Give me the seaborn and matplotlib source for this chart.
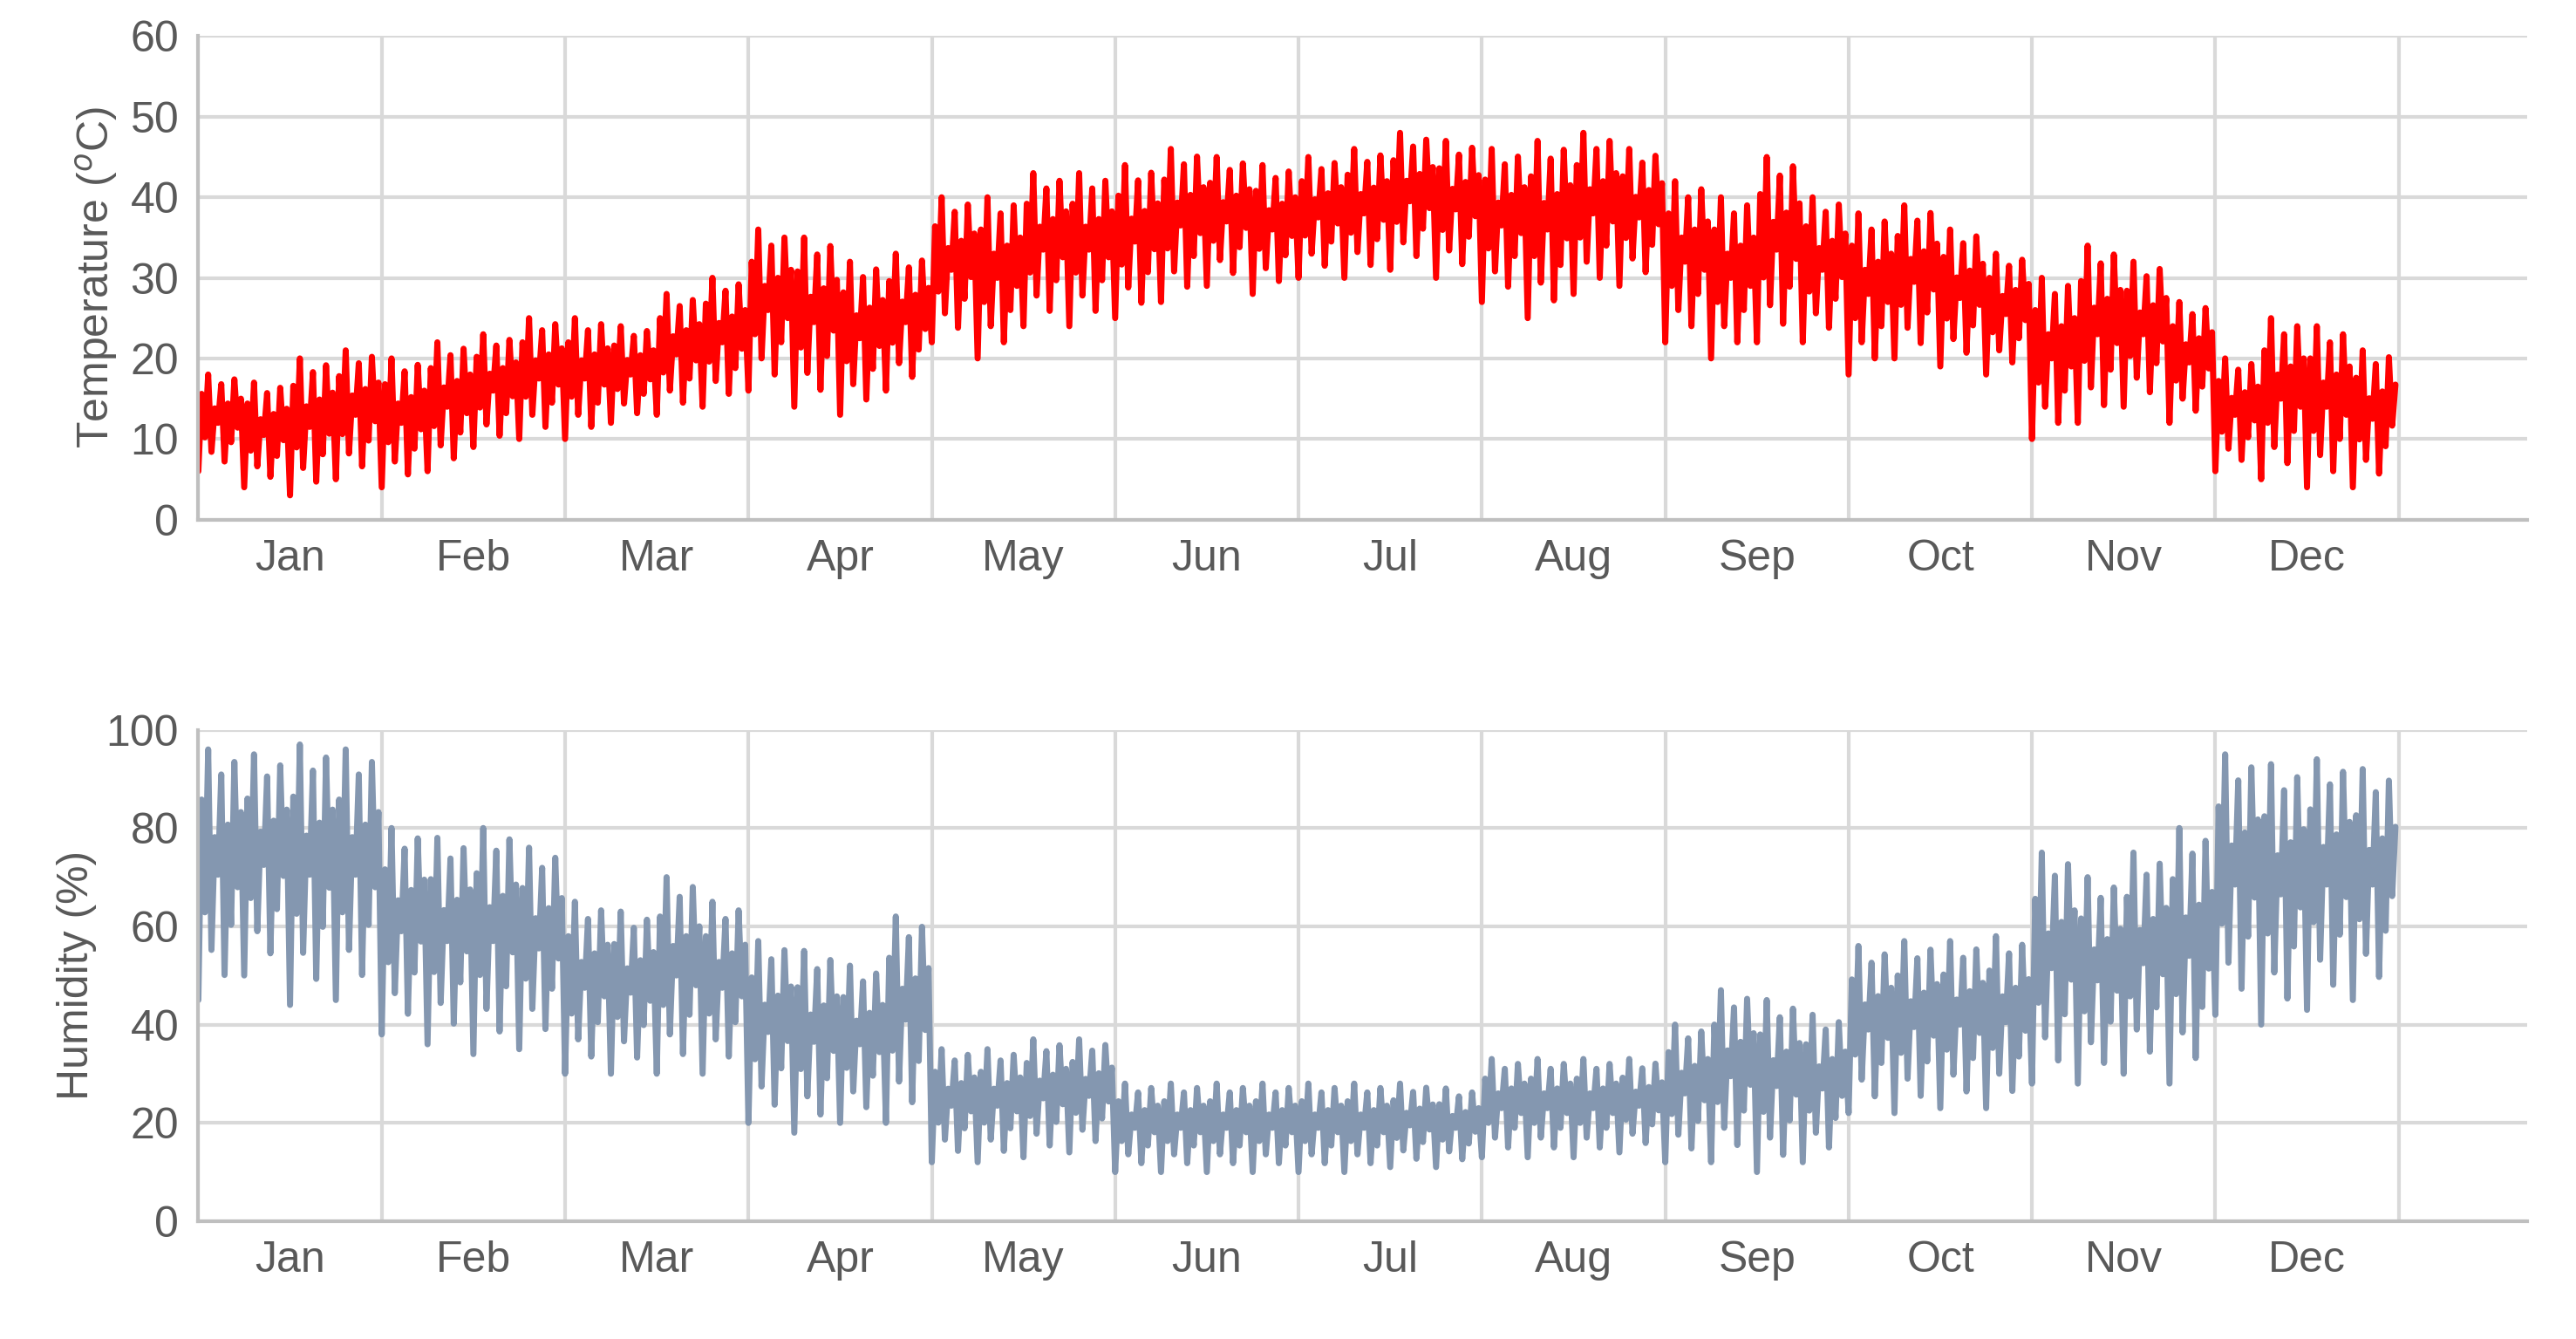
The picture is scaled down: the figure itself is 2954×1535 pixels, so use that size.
import numpy as np
import pandas as pd
import matplotlib
matplotlib.use("Agg")
import matplotlib.pyplot as plt
import seaborn as sns

months = ["Jan","Feb","Mar","Apr","May","Jun","Jul","Aug","Sep","Oct","Nov","Dec"]
# weekly (4 per month) readings: extreme high / low
temp_high = [18,17,20,21, 20,22,23,25, 25,24,28,30, 36,35,32,33,
             40,40,43,43, 44,46,45,44, 45,46,48,47, 46,47,48,46,
             42,40,45,40, 38,39,36,33, 30,34,32,27, 20,25,24,21]
temp_low  = [6,4,3,5, 4,6,9,10, 10,12,13,14, 16,14,13,16,
             22,20,24,24, 25,27,29,28, 30,30,31,30, 27,25,28,29,
             22,20,22,22, 18,20,19,18, 10,12,14,12, 6,5,4,4]
hum_high = [96,95,97,96, 80,78,80,76, 65,63,70,65, 57,55,52,62,
            35,35,37,37, 28,28,28,28, 28,28,28,27, 33,33,33,33,
            40,47,45,42, 56,57,57,58, 75,70,75,80, 95,93,94,92]
hum_low  = [45,50,44,45, 38,36,34,35, 30,30,30,30, 20,18,20,20,
            12,12,13,14, 10,10,10,10, 10,10,11,11, 13,13,13,14,
            12,12,10,12, 22,22,23,23, 28,28,30,28, 42,40,43,45]
# day-to-day share of the weekly range reached (7 days x [low, high])
day_low_share  = [0.0, 0.35, 0.2, 0.5, 0.1, 0.3, 0.45]
day_high_share = [0.8, 1.0, 0.65, 0.9, 0.7, 0.95, 0.75]

def band(highs, lows):
    xs, ys = [], []
    for i, (h, l) in enumerate(zip(highs, lows)):
        x0 = i / 4.0
        for d in range(7):
            xs.append(x0 + (2 * d) / 56.0)
            ys.append(l + (h - l) * day_low_share[d])
            xs.append(x0 + (2 * d + 1) / 56.0)
            ys.append(l + (h - l) * day_high_share[d])
    return pd.DataFrame({"x": xs, "y": ys})

df_t = band(temp_high, temp_low)
df_h = band(hum_high, hum_low)

sns.set_theme(style="white")
plt.rcParams["font.family"] = ["Liberation Sans", "DejaVu Sans"]
gray = "#595959"
fig = plt.figure(figsize=(29.54, 15.35), dpi=100)
ax1 = fig.add_axes([0.077, 0.612, 0.904, 0.361])
ax2 = fig.add_axes([0.077, 0.088, 0.904, 0.367])

for ax, df, color, ylim, step, label in [
    (ax1, df_t, "#ff0000", 60, 10, "Temperature ($^{o}$C)"),
    (ax2, df_h, "#8497b0", 100, 20, "Humidity (%)")]:
    for x in range(13):
        ax.axvline(x, color="#d9d9d9", lw=3, zorder=0)
    for y in range(0, ylim + 1, step):
        ax.axhline(y, color="#d9d9d9", lw=3, zorder=0)
    sns.lineplot(data=df, x="x", y="y", ax=ax, color=color, lw=5, sort=False)
    ax.set_xlim(0, 12.7)
    ax.set_ylim(0, ylim)
    ax.set_yticks(range(0, ylim + 1, step))
    ax.set_xticks([i + 0.5 for i in range(12)])
    ax.set_xticklabels(months)
    ax.tick_params(labelsize=36, colors=gray, length=0, pad=16)
    ax.set_xlabel("")
    ax.set_ylabel(label, fontsize=36, color=gray, labelpad=8)
    for s in ["top", "right"]:
        ax.spines[s].set_visible(False)
    for s in ["left", "bottom"]:
        ax.spines[s].set_color("#bfbfbf")
        ax.spines[s].set_linewidth(3)

fig.savefig("out.png", dpi=100)
